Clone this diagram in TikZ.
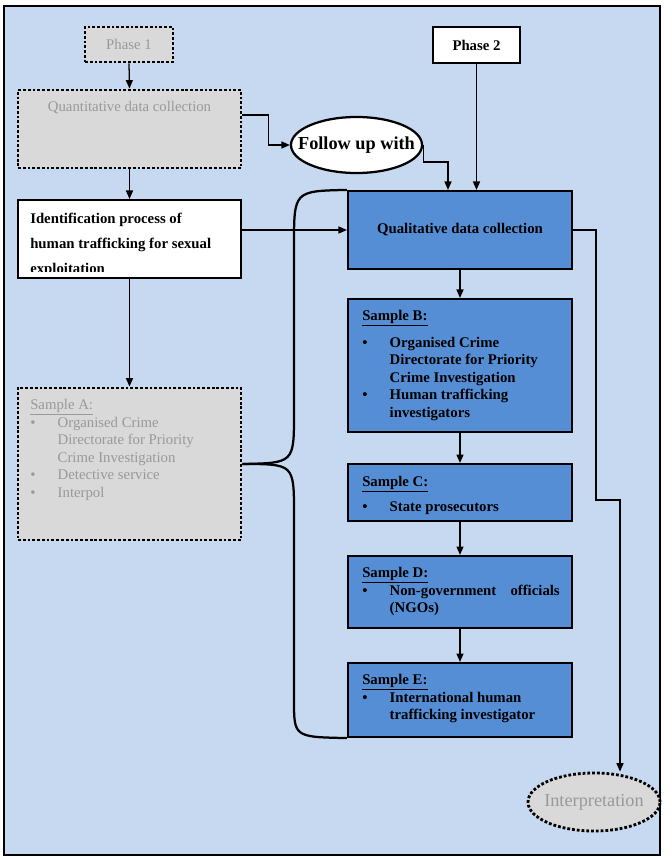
\documentclass[tikz,border=0pt]{standalone}
\usepackage{fontspec}
\setmainfont{Liberation Serif}
\usetikzlibrary{shapes.geometric, arrows.meta}

\definecolor{bgblue}{HTML}{C6D9F1}
\definecolor{boxblue}{HTML}{558ED5}
\definecolor{boxgray}{HTML}{D9D9D9}
\definecolor{txtgray}{HTML}{999999}

\newcommand{\blt}{\makebox[19.5pt][l]{\textbullet}}
\newcommand{\fs}{\fontsize{10.5}{12.5}\selectfont}

\begin{document}
\begin{tikzpicture}[x = 0.025cm, y = -0.025cm,
    solidbox/.style = {draw, line width = 1.5pt, inner sep = 0pt},
    dotbox/.style = {draw, line width = 2pt, dash pattern = on 2pt off 1.4pt, fill = boxgray, text = txtgray, inner sep = 0pt},
    bluebox/.style = {solidbox, fill = boxblue, minimum width = 5.6cm},
    txt/.style = {inner sep = 0pt, anchor = base west, align = left},
    link/.style = {line width = 0.9pt, -{Triangle[length = 6pt, width = 5pt]}},
    brace/.style = {line width = 1.6pt}]
        \useasboundingbox (0, 0) rectangle (671, 860);
        \draw[line width = 2pt, fill = bgblue] (4, 6) rectangle (660, 855);

        % phase 1 side
        \node[dotbox, minimum width = 2.2cm, minimum height = 0.875cm, font = \fs] (phase1) at (129, 44.5) {Phase 1};
        \node[dotbox, minimum width = 5.575cm, minimum height = 1.95cm] (quant) at (129.5, 129) {};
        \node[inner sep = 0pt, anchor = base, text = txtgray, font = \fs] (quanttext) at (129.5, 112) {Quantitative data collection};
        \node[solidbox, fill = white, minimum width = 5.575cm, minimum height = 1.95cm] (ident) at (129.5, 239) {};
        \begin{scope}
            \clip ([shift = {(2pt, -2pt)}]ident.north west) rectangle ([shift = {(-2pt, 5.5pt)}]ident.south east);
            \node[txt] (identtext) at (30, 223) {\fs\bfseries
                \begin{tabular}[t]{@{}l@{}}
                    Identification process of\\[5.6pt]
                    human trafficking for sexual\\[5.6pt]
                    exploitation
                \end{tabular}};
        \end{scope}
        \node[dotbox, minimum width = 5.575cm, minimum height = 3.8cm] (sampleA) at (129.5, 464) {};
        \node[txt, text = txtgray] (textA) at (30, 409) {\fs
            \begin{tabular}[t]{@{}l@{}l@{}}
                \multicolumn{2}{@{}l@{}}{\underline{Sample A:}}\\
                \blt & Organised Crime\\
                & Directorate for Priority\\
                & Crime Investigation\\
                \blt & Detective service\\
                \blt & Interpol
            \end{tabular}};

        % phase 2 side
        \node[solidbox, fill = white, minimum width = 2.175cm, minimum height = 0.9cm, font = \fs\bfseries] (phase2) at (476.5, 45) {Phase 2};
        \node[ellipse, draw, line width = 1.6pt, fill = white, minimum width = 3.275cm, minimum height = 1.4cm, inner sep = 0pt, font = \fontsize{13}{15}\selectfont\bfseries] (follow) at (356.5, 145) {\makebox[0pt]{Follow up with}};
        \node[bluebox, minimum height = 1.95cm, font = \fs\bfseries] (qual) at (460, 230) {Qualitative data collection};
        \node[bluebox, minimum height = 3.325cm] (sampleB) at (460, 365.5) {};
        \node[bluebox, minimum height = 1.425cm] (sampleC) at (460, 492.5) {};
        \node[bluebox, minimum height = 1.8cm] (sampleD) at (460, 592) {};
        \node[bluebox, minimum height = 1.85cm] (sampleE) at (460, 700) {};
        \node[txt] (textB) at (362, 320) {\fs\bfseries
            \begin{tabular}[t]{@{}l@{}l@{}}
                \multicolumn{2}{@{}l@{}}{\underline{Sample B:}}\\[6.7pt]
                \blt & Organised Crime\\
                & Directorate for Priority\\
                & Crime Investigation\\
                \blt & Human trafficking\\
                & investigators
            \end{tabular}};
        \node[txt] (textC) at (362, 486) {\fs\bfseries
            \begin{tabular}[t]{@{}l@{}l@{}}
                \multicolumn{2}{@{}l@{}}{\underline{Sample C:}}\\[5.3pt]
                \blt & State prosecutors
            \end{tabular}};
        \node[txt] (textD) at (362, 577) {\fs\bfseries
            \begin{tabular}[t]{@{}l@{}l@{}}
                \multicolumn{2}{@{}l@{}}{\underline{Sample D:}}\\
                \blt & \makebox[4.25cm][s]{Non-government officials}\\
                & (NGOs)
            \end{tabular}};
        \node[txt] (textE) at (362, 684) {\fs\bfseries
            \begin{tabular}[t]{@{}l@{}l@{}}
                \multicolumn{2}{@{}l@{}}{\underline{Sample E:}}\\
                \blt & International human\\
                & trafficking investigator
            \end{tabular}};
        \node[ellipse, dotbox, minimum width = 3.3cm, minimum height = 1.45cm, font = \fontsize{13}{15}\selectfont] (interp) at (594, 802) {\makebox[0pt]{Interpretation}};

        % connectors
        \draw[link] (phase1.south) -- (quant.north);
        \draw[link] (quant.south) -- (ident.north);
        \draw[link] (ident.south) -- (sampleA.north);
        \draw[link] ([yshift = 10pt]quant.east) -- ++(26, 0) |- (follow.west);
        \coordinate (bendC) at (448, 162);
        \draw[link] (follow.east) |- (bendC) -- (bendC |- qual.north);
        \draw[link] (phase2.south) -- (phase2.south |- qual.north);
        \draw[link] (ident.east |- qual.west) -- (qual.west);
        \draw[link] (qual.south) -- (sampleB.north);
        \draw[link] (sampleB.south) -- (sampleC.north);
        \draw[link] (sampleC.south) -- (sampleD.north);
        \draw[link] (sampleD.south) -- (sampleE.north);
        \coordinate (bendA) at (596, 500);
        \coordinate (bendB) at (620, 500);
        \draw[link] (qual.east) -| (bendA) -- (bendB) -- (bendB |- interp.north);

        % brace
        \draw[brace] (qual.north west) .. controls (294, 191) .. (294, 245) -- (294, 413) .. controls (294, 463) .. (sampleA.east);
        \draw[brace] (sampleA.east) .. controls (294, 464) .. (294, 514) -- (294, 700) .. controls (294, 737) .. (sampleE.south west);
\end{tikzpicture}
\end{document}
